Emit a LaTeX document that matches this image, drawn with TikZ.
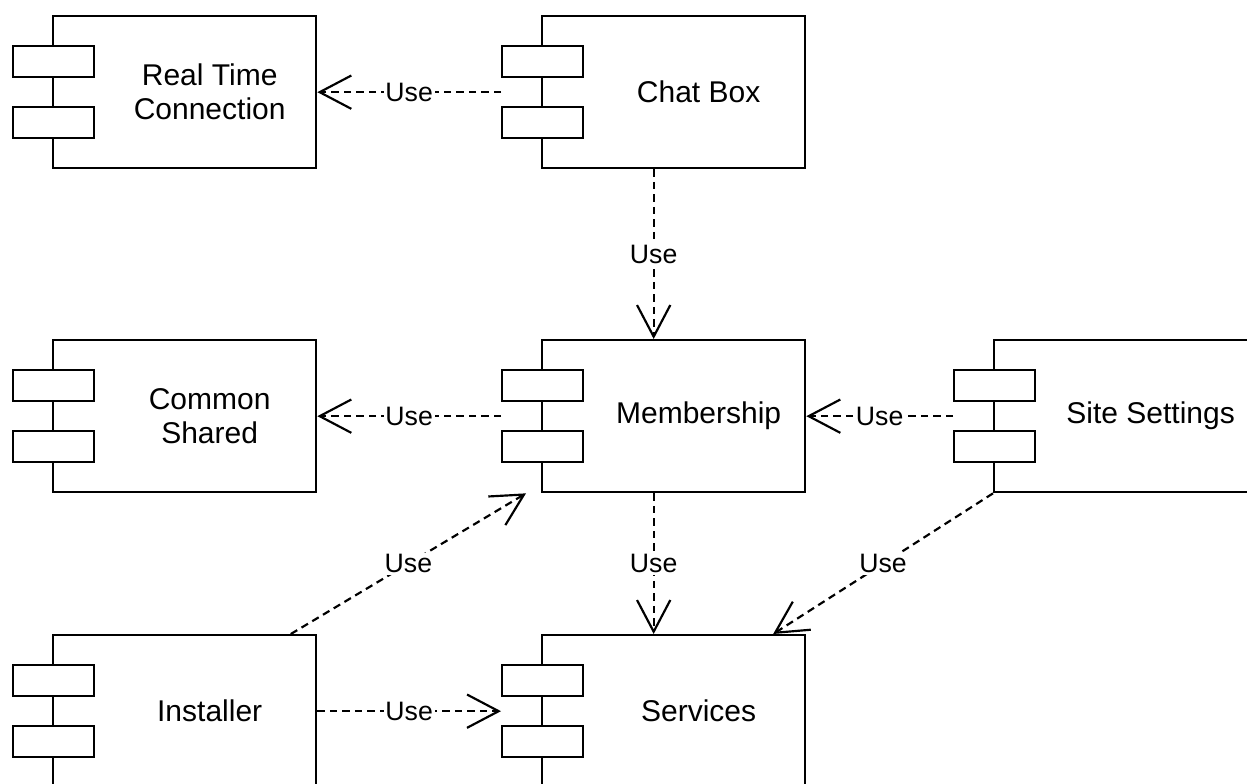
\documentclass[tikz,border=0pt]{standalone}
\usepackage{fontspec}
\setmainfont{Liberation Sans}
\usetikzlibrary{arrows.meta,calc}
\tikzset{
  mainbox/.style={draw=black, line width=1.4pt, minimum width=157.8pt, minimum height=91.2pt, inner sep=0pt, fill=white},
  portbox/.style={draw=black, line width=1.4pt, minimum width=48.6pt, minimum height=18.6pt, inner sep=0pt, fill=white},
  comptext/.style={align=center, font=\fontsize{18}{20.5}\selectfont, inner sep=0pt},
  usedep/.style={draw=black, line width=1.3pt, dash pattern=on 4.5pt off 3pt,
    -{Straight Barb[length=19pt,width=20pt,line width=1.3pt]}},
  lbl/.style={fill=white, inner sep=1pt, font=\fontsize{16}{19}\selectfont}
}
\newcommand\compbox[4]{%
  \node[mainbox, anchor=north west] (#1) at (#2,#3) {};
  \node[portbox, anchor=north west] (#1-p1) at ($(#2,#3)+(-40,30)$) {};
  \node[portbox, anchor=north west] (#1-p2) at ($(#2,#3)+(-40,91)$) {};
  \node[comptext] (#1-t) at ($(#1.center)+(25,0)$) {#4};
  \coordinate (#1-mid) at ($(#1-p1.west)!0.5!(#1.east)$);
}
\begin{document}
\begin{tikzpicture}[x=0.6pt,y=-0.6pt]
\useasboundingbox (0,0) rectangle (1247,783);
\clip (0,0) rectangle (1247,783);
\fill[white] (0,0) rectangle (1247,783);
\compbox{rtc}{52}{15}{Real Time\\Connection}
\compbox{chat}{541}{15}{Chat Box}
\compbox{common}{52}{339}{Common\\Shared}
\compbox{member}{541}{339}{Membership}
\compbox{site}{993}{339}{Site Settings}
\compbox{inst}{52}{634}{Installer}
\compbox{serv}{541}{634}{Services}
\coordinate (serv-in) at ($(serv.north west)!0.875!(serv.north east)$);
\coordinate (inst-out) at ($(inst.north west)!0.9!(inst.north east)$);
\coordinate (member-in) at ($(member.south west)+(-15,0)$);
% connectors
\draw[usedep] (chat-p1.west |- chat.west) -- node[lbl]{Use} (rtc.east);
\draw[usedep] (chat-mid |- chat.south) -- node[lbl]{Use} (member-mid |- member.north);
\draw[usedep] (member-p1.west |- member.west) -- node[lbl]{Use} (common.east);
\draw[usedep] (site-p1.west |- site.west) -- node[lbl]{Use} (member.east);
\draw[usedep] (member-mid |- member.south) -- node[lbl]{Use} (serv-mid |- serv.north);
\draw[usedep] (site.south west) -- node[lbl]{Use} (serv-in);
\draw[usedep] (inst-out) -- node[lbl]{Use} (member-in);
\draw[usedep] (inst.east) -- node[lbl]{Use} (serv-p1.west |- serv.west);
\end{tikzpicture}
\end{document}
